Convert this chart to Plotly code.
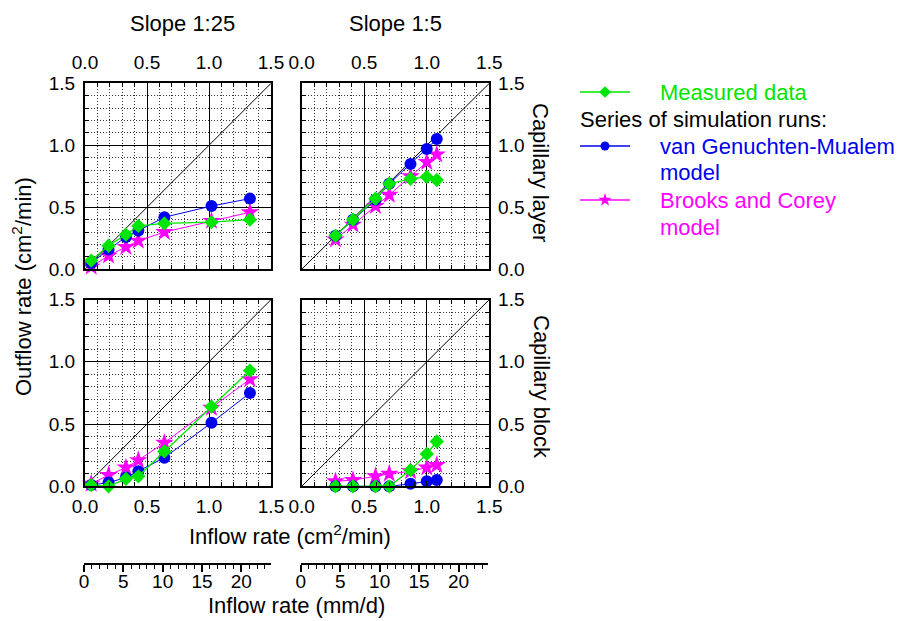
import plotly.graph_objects as go

# ---------------- data ----------------
x_slope25 = [0.05, 0.19, 0.33, 0.43, 0.64, 1.02, 1.33]
x_slope5 = [0.27, 0.41, 0.59, 0.70, 0.87, 1.00, 1.08]

meas_layer_25 = [0.07, 0.19, 0.28, 0.35, 0.37, 0.38, 0.40]
vgm_layer_25 = [0.05, 0.16, 0.26, 0.31, 0.42, 0.51, 0.57]
bc_layer_25 = [0.02, 0.11, 0.18, 0.23, 0.30, 0.39, 0.46]

meas_layer_5 = [0.27, 0.40, 0.57, 0.69, 0.73, 0.745, 0.72]
vgm_layer_5 = [0.27, 0.40, 0.56, 0.69, 0.85, 0.97, 1.05]
bc_layer_5 = [0.24, 0.36, 0.51, 0.60, 0.75, 0.865, 0.925]

meas_block_25 = [0.01, 0.00, 0.06, 0.08, 0.28, 0.64, 0.93]
vgm_block_25 = [0.01, 0.03, 0.07, 0.12, 0.23, 0.51, 0.75]
bc_block_25 = [0.02, 0.09, 0.15, 0.21, 0.35, 0.63, 0.86]

meas_block_5 = [0.00, 0.00, 0.00, 0.00, 0.13, 0.26, 0.36]
vgm_block_5 = [0.00, 0.00, 0.00, 0.00, 0.02, 0.04, 0.05]
bc_block_5 = [0.04, 0.05, 0.08, 0.10, 0.12, 0.15, 0.17]

diag = [0.0, 1.5]
axis_range = [0.0, 1.5]
mmd_per_cm2min = 15.82  # conversion for the secondary (mm/d) axis
mmd_range = [0.0, axis_range[1] * mmd_per_cm2min]

series_names = ["Measured data", "van Genuchten-Mualem model", "Brooks and Corey model"]

# ---------------- styling ----------------
W, H = 897, 619  # a hair under the window so the page never overflows
FONT = "Liberation Sans, Arial, sans-serif"
GREEN = "#00E600"
BLUE = "#0000F0"
MAGENTA = "#FF00FF"
TICKFONT = 19
TEXTFONT = 22


def px(x):
    return x / W


def py(y):
    return 1 - y / H


def dx(a, b):
    return [px(a), px(b)]


def dy(top, bottom):
    return [py(bottom), py(top)]


fig = go.Figure()

panels = [
    ("x", "y", x_slope25, meas_layer_25, vgm_layer_25, bc_layer_25),
    ("x2", "y2", x_slope5, meas_layer_5, vgm_layer_5, bc_layer_5),
    ("x3", "y3", x_slope25, meas_block_25, vgm_block_25, bc_block_25),
    ("x4", "y4", x_slope5, meas_block_5, vgm_block_5, bc_block_5),
]

for xa, ya, xs, meas, vgm, bc in panels:
    fig.add_trace(go.Scatter(x=diag, y=diag, mode="lines", xaxis=xa, yaxis=ya,
                             line=dict(color="black", width=1), showlegend=False,
                             hoverinfo="skip"))
    fig.add_trace(go.Scatter(x=xs, y=bc, mode="lines+markers", xaxis=xa, yaxis=ya,
                             name=series_names[2], showlegend=False, cliponaxis=False,
                             line=dict(color=MAGENTA, width=1),
                             marker=dict(symbol="star", size=14, color=MAGENTA)))
    fig.add_trace(go.Scatter(x=xs, y=vgm, mode="lines+markers", xaxis=xa, yaxis=ya,
                             name=series_names[1], showlegend=False, cliponaxis=False,
                             line=dict(color=BLUE, width=1),
                             marker=dict(symbol="circle", size=12, color=BLUE)))
    fig.add_trace(go.Scatter(x=xs, y=meas, mode="lines+markers", xaxis=xa, yaxis=ya,
                             name=series_names[0], showlegend=False, cliponaxis=False,
                             line=dict(color=GREEN, width=1.3),
                             marker=dict(symbol="diamond", size=11, color=GREEN)))

# placeholder traces so the mm/d axes get created
fig.add_trace(go.Scatter(x=[None], y=[None], xaxis="x5", yaxis="y5", showlegend=False))
fig.add_trace(go.Scatter(x=[None], y=[None], xaxis="x6", yaxis="y6", showlegend=False))

# legend keys (drawn on a small pixel-coordinate helper axis)
key_x = [580, 630]
key_mid = [605]
key_rows = [(92, GREEN, "diamond", 9), (146, BLUE, "circle", 9), (200, MAGENTA, "star", 10)]
for ky, col, sym, sz in key_rows:
    fig.add_trace(go.Scatter(x=key_x, y=[ky, ky], mode="lines", xaxis="x7", yaxis="y7",
                             line=dict(color=col, width=1.3), showlegend=False,
                             hoverinfo="skip"))
    fig.add_trace(go.Scatter(x=key_mid, y=[ky], mode="markers", xaxis="x7", yaxis="y7",
                             marker=dict(symbol=sym, size=sz, color=col), showlegend=False,
                             hoverinfo="skip"))

common = dict(
    range=axis_range, tickvals=[0, 0.5, 1.0, 1.5], ticktext=["0.0", "0.5", "1.0", "1.5"],
    showline=True, linecolor="black", linewidth=2, mirror="allticks",
    ticks="inside", ticklen=5, tickcolor="black", tickwidth=1,
    showgrid=True, gridcolor="black", gridwidth=1,
    zeroline=False, automargin=False,
    tickfont=dict(size=TICKFONT, color="black", family=FONT),
    minor=dict(dtick=0.1, tick0=0, showgrid=True, gridcolor="#333333", gridwidth=1,
               griddash="1px,2px", ticks="inside", ticklen=4, tickcolor="black"),
    fixedrange=True,
)

xl = dx(85, 271)
xr = dx(301.7, 489.3)
yt = dy(83.3, 269.3)
yb = dy(299.6, 486.3)

lay = dict(
    width=W, height=H, margin=dict(l=0, r=0, t=0, b=0, pad=0),
    paper_bgcolor="white", plot_bgcolor="rgba(0,0,0,0)",
    font=dict(family=FONT, color="black", size=TEXTFONT),
    showlegend=False,
    xaxis=dict(common, domain=xl, anchor="y", side="top", ticklabelstandoff=5),
    yaxis=dict(common, domain=yt, anchor="x", side="left", ticklabelstandoff=4),
    xaxis2=dict(common, domain=xr, anchor="y2", side="top", ticklabelstandoff=5),
    yaxis2=dict(common, domain=yt, anchor="x2", side="right", ticklabelstandoff=3),
    xaxis3=dict(common, domain=xl, anchor="y3", side="bottom", ticklabelstandoff=2),
    yaxis3=dict(common, domain=yb, anchor="x3", side="left", ticklabelstandoff=4),
    xaxis4=dict(common, domain=xr, anchor="y4", side="bottom", ticklabelstandoff=2),
    yaxis4=dict(common, domain=yb, anchor="x4", side="right", ticklabelstandoff=3),
)

mmd_axis = dict(
    range=mmd_range, dtick=5, tick0=0, showline=True, linecolor="black", linewidth=1.5,
    ticks="outside", ticklen=7, tickwidth=1.5, tickcolor="black", showgrid=False,
    zeroline=False, side="bottom", automargin=False, ticklabelstandoff=-7,
    tickfont=dict(size=TICKFONT, color="black", family=FONT),
    minor=dict(dtick=1, tick0=0, ticks="outside", ticklen=4, tickcolor="black", tickwidth=1,
               showgrid=False),
    fixedrange=True,
)
hidden_y = dict(visible=False, range=[0, 1], fixedrange=True, automargin=False)
ymmd = dy(562, 563)
lay["xaxis5"] = dict(mmd_axis, domain=dx(84, 270.7), anchor="y5")
lay["yaxis5"] = dict(hidden_y, domain=ymmd, anchor="x5")
lay["xaxis6"] = dict(mmd_axis, domain=dx(300.7, 488), anchor="y6")
lay["yaxis6"] = dict(hidden_y, domain=ymmd, anchor="x6")

# helper axis for legend keys: page-pixel coords
lay["xaxis7"] = dict(visible=False, domain=dx(570, 890), range=[570, 890], anchor="y7",
                     fixedrange=True, automargin=False)
lay["yaxis7"] = dict(visible=False, domain=dy(70, 240), range=[240, 70], anchor="x7",
                     fixedrange=True, automargin=False)

fig.update_layout(**lay)


def text(s, x, y, color="black", angle=0, xanchor="center", size=TEXTFONT):
    fig.add_annotation(text=s, x=px(x), y=py(y), xref="paper", yref="paper",
                       showarrow=False, textangle=angle, xanchor=xanchor, yanchor="middle",
                       font=dict(size=size, color=color, family=FONT))


text("Slope 1:25", 182, 23)
text("Slope 1:5", 395, 23)
text("Outflow rate (cm<sup>2</sup>/min)", 22, 287, angle=-90)
text("Capillary layer", 541, 172, angle=90)
text("Capillary block", 541, 387, angle=90)
text("Inflow rate (cm<sup>2</sup>/min)", 290, 535)
text("Inflow rate (mm/d)", 296, 605)

# legend texts
text("Measured data", 658, 92, color=GREEN, xanchor="left")
text("Series of simulation runs:", 578, 119, xanchor="left")
text("van Genuchten-Mualem", 658, 146, color=BLUE, xanchor="left")
text("model", 658, 173, color=BLUE, xanchor="left")
text("Brooks and Corey", 658, 200, color=MAGENTA, xanchor="left")
text("model", 658, 227, color=MAGENTA, xanchor="left")

fig.write_html("out.html")
